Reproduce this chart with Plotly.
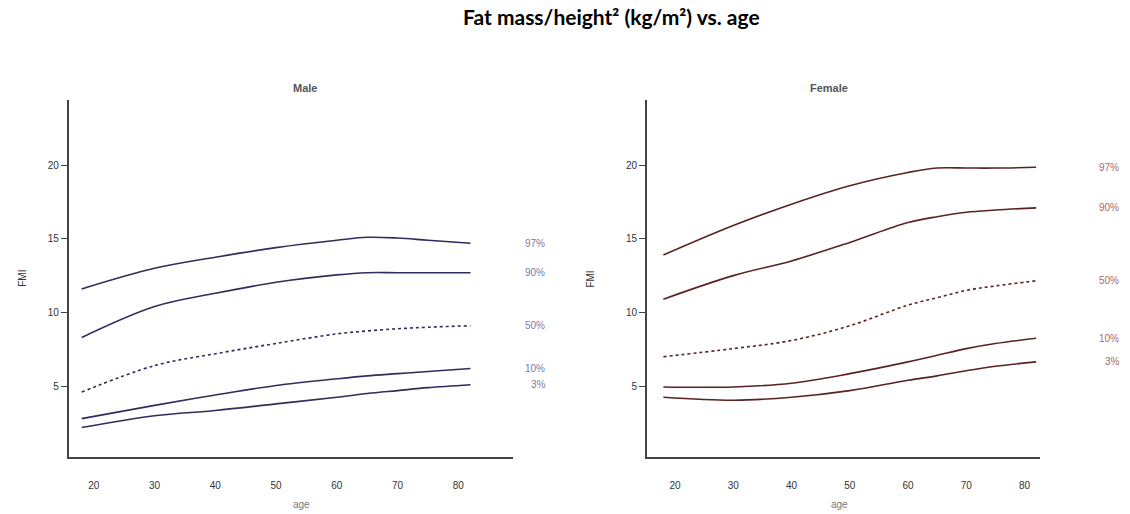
import plotly.graph_objects as go

# Age grid of the smoothed percentile curves
age = [18, 30, 40, 50, 60, 65, 70, 75, 82]

percentiles = ["97%", "90%", "50%", "10%", "3%"]

male_97 = [11.6, 13.0, 13.75, 14.4, 14.9, 15.1, 15.05, 14.9, 14.7]
male_90 = [8.3, 10.4, 11.3, 12.05, 12.55, 12.7, 12.7, 12.7, 12.7]
male_50 = [4.6, 6.4, 7.2, 7.9, 8.55, 8.75, 8.9, 9.0, 9.1]
male_10 = [2.8, 3.7, 4.4, 5.05, 5.5, 5.7, 5.85, 6.0, 6.2]
male_3 = [2.2, 3.0, 3.35, 3.8, 4.25, 4.5, 4.7, 4.9, 5.1]

female_97 = [13.9, 15.9, 17.35, 18.6, 19.5, 19.8, 19.8, 19.8, 19.85]
female_90 = [10.9, 12.5, 13.5, 14.75, 16.1, 16.5, 16.8, 16.95, 17.1]
female_50 = [7.0, 7.55, 8.1, 9.1, 10.5, 11.0, 11.5, 11.8, 12.15]
female_10 = [4.95, 4.95, 5.2, 5.85, 6.65, 7.1, 7.55, 7.9, 8.25]
female_3 = [4.25, 4.05, 4.25, 4.7, 5.4, 5.7, 6.05, 6.35, 6.65]

male = [male_97, male_90, male_50, male_10, male_3]
female = [female_97, female_90, female_50, female_10, female_3]

x_ticks = [20, 30, 40, 50, 60, 70, 80]
y_ticks = [5, 10, 15, 20]

MALE_LINE = "#2e2e5c"
MALE_TEXT = "#7a7aa8"
FEMALE_LINE = "#5a2222"
FEMALE_TEXT = "#a86a6a"

fig = go.Figure()

panels = [
    (male, "x", "y", MALE_LINE, MALE_TEXT, 1.022),
    (female, "x2", "y2", FEMALE_LINE, FEMALE_TEXT, 1.145),
]

annotations = []
for series, xa, ya, lcol, tcol, label_pos in panels:
    for name, vals in zip(percentiles, series):
        fig.add_trace(go.Scatter(
            x=age, y=vals, mode="lines", name=name, xaxis=xa, yaxis=ya,
            line=dict(color=lcol, width=1.6, shape="spline",
                      dash="dot" if name == "50%" else "solid"),
            showlegend=False, hoverinfo="skip",
        ))
    # percentile labels to the right of each curve end
    for name, vals in zip(percentiles, series):
        annotations.append(dict(
            x=label_pos, y=vals[-1], xref=xa + " domain", yref=ya, text=name,
            showarrow=False, xanchor="left", xshift=6 if name == "3%" else 0,
            font=dict(family="Liberation Sans", size=10, color=tcol),
        ))

axis_common = dict(
    showgrid=False, zeroline=False, showline=True, linecolor="#444444",
    linewidth=2, tickfont=dict(family="Liberation Sans", size=10, color="#333333"),
)
x_common = dict(ticks="", ticklabelstandoff=18, **axis_common)
y_common = dict(ticks="outside", ticklen=6, tickcolor="#444444", **axis_common)

fig.update_layout(
    width=1130, height=514,
    margin=dict(l=0, r=0, t=0, b=0),
    paper_bgcolor="white", plot_bgcolor="white",
    xaxis=dict(domain=[0.061, 0.454], range=[15.9, 89.0], tickvals=x_ticks,
               anchor="y", **x_common),
    yaxis=dict(domain=[0.111, 0.805], range=[0.2, 24.4], tickvals=y_ticks,
               anchor="x", **y_common),
    xaxis2=dict(domain=[0.5726, 0.920], range=[15.2, 82.6], tickvals=x_ticks,
                anchor="y2", **x_common),
    yaxis2=dict(domain=[0.111, 0.805], range=[0.2, 24.4], tickvals=y_ticks,
                anchor="x2", **y_common),
)

# axis titles and panel headings
for heading, cx, ylab_x in [("Male", 0.2575, 0.013), ("Female", 0.752, 0.523)]:
    annotations.append(dict(text="<b>" + heading + "</b>", x=cx, y=0.829, xref="paper",
                            yref="paper", showarrow=False, yanchor="middle",
                            font=dict(family="Liberation Sans", size=11, color="#555555")))
    annotations.append(dict(text="age", x=cx, y=0.0, xref="paper", yref="paper",
                            showarrow=False, yanchor="bottom", yshift=2,
                            font=dict(family="Liberation Sans", size=10, color="#777777")))
    annotations.append(dict(text="FMI", x=ylab_x, y=0.458, xref="paper", yref="paper",
                            showarrow=False, textangle=-90,
                            font=dict(family="Liberation Sans", size=10, color="#333333")))

annotations.append(dict(text="<b>Fat mass/height² (kg/m²) vs. age</b>", x=0.541, y=0.967,
                        xref="paper", yref="paper", showarrow=False, yanchor="middle",
                        font=dict(family="Lato", size=21, color="black")))

fig.update_layout(annotations=annotations)

fig.write_html("out.html")
